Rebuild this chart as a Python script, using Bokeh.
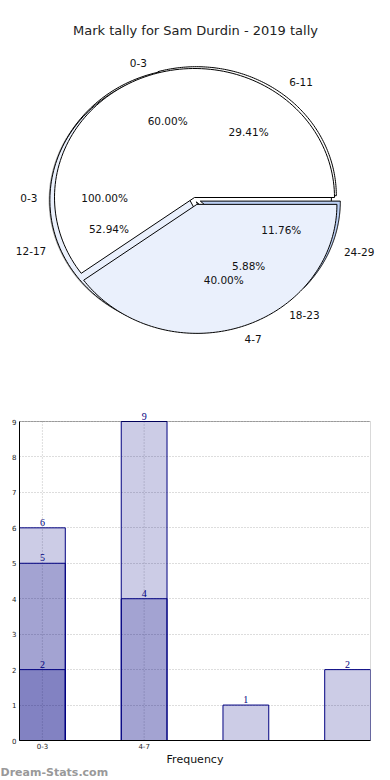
import numpy as np
from bokeh.plotting import figure
from bokeh.models import (Range1d, ColumnDataSource, FixedTicker, LabelSet,
                          BoxAnnotation, Title)
from bokeh.core.properties import value
from bokeh.embed import file_html
from bokeh.resources import INLINE

TITLE = "Mark tally for Sam Durdin - 2019 tally"

# series 1
s1_labels = ["0-3"]
s1_values = [2]
# series 2
s2_labels = ["0-3", "4-7"]
s2_values = [6, 4]
# series 3
s3_labels = ["6-11", "12-17", "18-23", "24-29"]
s3_values = [5, 9, 1, 2]

bar_tick_labels = ["0-3", "4-7"]
y_ticks = [0, 1, 2, 3, 4, 5, 6, 7, 8, 9]
y_max = 9
x_axis_label = "Frequency"
watermark = "Dream-Stats.com"

FONT = "DejaVu Sans"

# ---------------- pie figure ----------------
PW, PH = 390, 395
TOP = 42
frame_h = PH - TOP
cx_px, cy_px = 194, 197 - TOP
sx, sy = 140.0, 129.0
pie = figure(frame_width=PW, frame_height=frame_h, output_backend="svg",
             toolbar_location=None, x_axis_location=None, y_axis_location=None,
             x_range=Range1d(-cx_px / sx, (PW - cx_px) / sx),
             y_range=Range1d(-(frame_h - cy_px) / sy, cy_px / sy),
             min_border=0, min_border_top=TOP, title=TITLE)
pie.grid.visible = False
pie.outline_line_color = None
pie.title.align = "center"
pie.title.text_font = FONT
pie.title.text_font_size = "13px"
pie.title.text_font_style = "normal"
pie.title.text_color = "#222222"


def pie_slices(vals, explode, ox, oy):
    vals = np.asarray(vals, dtype=float)
    total = vals.sum()
    ends = np.cumsum(vals) / total * 2 * np.pi
    starts = np.concatenate([[0.0], ends[:-1]])
    xs, ys, mids, cxs, cys = [], [], [], [], []
    for a0, a1, e in zip(starts, ends, explode):
        mid = (a0 + a1) / 2
        cx = ox + e * np.cos(mid)
        cy = oy + e * np.sin(mid)
        t = np.linspace(a0, a1, 120)
        if a1 - a0 >= 2 * np.pi - 1e-9:
            xs.append(list(cx + np.cos(t)))
            ys.append(list(cy + np.sin(t)))
        else:
            xs.append([cx] + list(cx + np.cos(t)))
            ys.append([cy] + list(cy + np.sin(t)))
        mids.append(mid)
        cxs.append(cx)
        cys.append(cy)
    pct = [f"{v / total * 100:.2f}%" for v in vals]
    return xs, ys, np.array(mids), np.array(cxs), np.array(cys), pct


def draw_pie(labels, vals, explode, ox, oy, colors, shadow=True):
    xs, ys, mids, cxs, cys, pct = pie_slices(vals, explode, ox, oy)
    if shadow:
        pie.patches(xs=[list(np.array(x) - 0.02) for x in xs],
                    ys=[list(np.array(y) - 0.022) for y in ys],
                    fill_color="#555555", fill_alpha=0.55, line_color=None)
    pie.patches(xs=xs, ys=ys, fill_color=colors[:len(xs)], line_color="black",
                line_width=1)
    return mids, cxs, cys, pct


def label_pie(labels, mids, cxs, cys, pct, r_in=0.62, r_out=1.1):
    labels = np.array(labels)
    pct = np.array(pct)
    pie.text(x=cxs + r_in * np.cos(mids), y=cys + r_in * np.sin(mids),
             text=list(pct), text_font=value(FONT), text_font_size="10.5px",
             text_color="#111111", text_align="center",
             text_baseline="middle")
    xo = cxs + r_out * np.cos(mids)
    yo = cys + r_out * np.sin(mids)
    right = np.cos(mids) >= 0
    for mask, al in ((right, "left"), (~right, "right")):
        if mask.any():
            pie.text(x=xo[mask], y=yo[mask], text=list(labels[mask]),
                     text_font=value(FONT), text_font_size="10.5px",
                     text_color="#111111", text_align=al,
                     text_baseline="middle")


A = draw_pie(s1_labels, s1_values, [0.0], -0.022, 0.0, ["#FFFFFF"])
C = draw_pie(s3_labels, s3_values, [0.03, 0.03, 0.03, 0.05], -0.005, -0.01,
             ["#FFFFFF", "#EAF0FC", "#EAF0FC", "#BCD0F4"], shadow=False)
B = draw_pie(s2_labels, s2_values, [0.0, 0.056], 0.0, 0.0,
             ["#FFFFFF", "#EAF0FC"], shadow=False)
label_pie(s1_labels, *A)
label_pie(s2_labels, *B)
label_pie(s3_labels, *C)

# ---------------- bar figure ----------------
FW, FH = 351, 335
PXU = 319.0 / y_max
bars = figure(frame_width=FW, frame_height=FH, output_backend="svg",
              toolbar_location=None,
              x_range=Range1d(-0.225, 3.225),
              y_range=Range1d(0, y_max + 16 / PXU),
              min_border_left=19, min_border_right=20, min_border_top=10,
              min_border_bottom=50)
bars.outline_line_color = None

bars.xgrid.visible = False
bars.ygrid.ticker = FixedTicker(ticks=y_ticks)
bars.ygrid.grid_line_color = "#BBBBBB"
bars.ygrid.grid_line_dash = "1 2"
tick_pos = list(range(len(bar_tick_labels)))
bars.segment(x0=tick_pos, y0=[0] * len(tick_pos), x1=tick_pos,
             y1=[y_max] * len(tick_pos), line_color="#BBBBBB", line_dash="1 2")

BAR_W = 0.45
for vals in (s3_values, s2_values, s1_values):
    xs_ = list(range(len(vals)))
    src = ColumnDataSource(dict(x=xs_, top=vals, txt=[str(v) for v in vals]))
    bars.vbar(x="x", top="top", width=BAR_W, source=src, fill_color="navy",
              fill_alpha=0.2, line_color="navy", line_width=1)
    bars.add_layout(LabelSet(x="x", y="top", text="txt", source=src,
                             text_font=FONT, text_font_size="10px",
                             text_color="navy", text_align="center",
                             text_baseline="bottom", y_offset=2))

bars.add_layout(BoxAnnotation(left=-0.225, right=3.225, bottom=0, top=y_max,
                              fill_alpha=0, line_color="black", line_width=1,
                              level="overlay"))

bars.xaxis.ticker = FixedTicker(ticks=tick_pos)
bars.xaxis.major_label_overrides = {i: t for i, t in enumerate(bar_tick_labels)}
bars.yaxis.ticker = FixedTicker(ticks=y_ticks)
bars.yaxis.bounds = (0, y_max)
for ax in (bars.xaxis[0], bars.yaxis[0]):
    ax.major_label_text_font = FONT
    ax.major_label_text_font_size = "7px"
    ax.major_label_text_color = "#222222"
    ax.major_tick_out = 0
    ax.major_tick_in = 0
    ax.minor_tick_out = 0
    ax.minor_tick_in = 0
    ax.major_label_standoff = 3
    ax.axis_line_color = "black"
bars.xaxis.major_label_standoff = 2
bars.xaxis.axis_label = x_axis_label
bars.xaxis.axis_label_text_font = FONT
bars.xaxis.axis_label_text_font_size = "11px"
bars.xaxis.axis_label_text_font_style = "normal"
bars.xaxis.axis_label_standoff = 1
bars.xaxis.axis_label_text_color = "#111111"

wm = Title(text=watermark, align="left", offset=-19, standoff=-10,
           text_font=FONT, text_font_size="11px", text_font_style="bold",
           text_color="#999999")
bars.add_layout(wm, "below")

open("out.html", "w").write(file_html([pie, bars], INLINE))
